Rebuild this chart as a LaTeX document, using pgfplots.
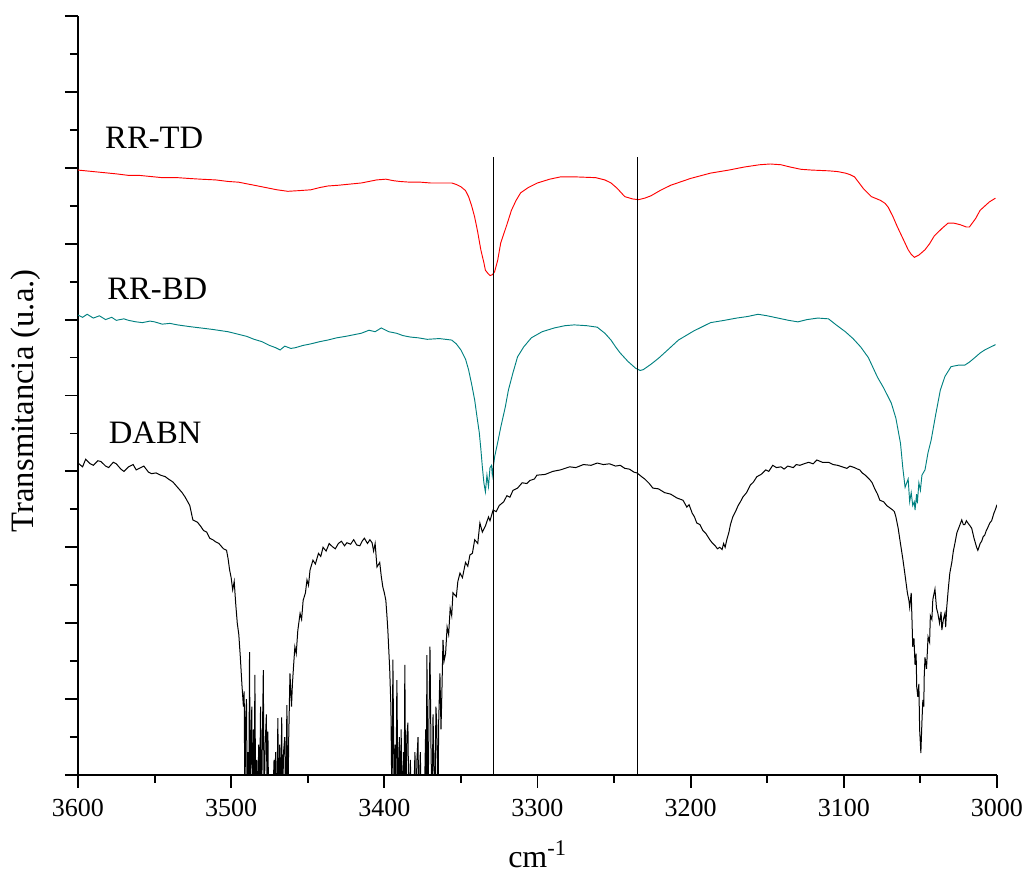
\documentclass[border=0pt]{standalone}
\usepackage{fontspec}
\setmainfont{Liberation Serif}
\usepackage{pgfplots}
\pgfplotsset{compat=1.18}
\definecolor{tealc}{RGB}{0,128,128}
\begin{document}
\begin{tikzpicture}
\path[use as bounding box] (-58.5pt,-73.5pt) rectangle (710.25pt,581.25pt);
\begin{axis}[
  at={(0,0)}, anchor=south west,
  scale only axis, width=689.25pt, height=569.25pt,
  x dir=reverse, xmin=3000, xmax=3600, ymin=0, ymax=10,
  axis x line=bottom, axis y line=left,
  axis line style={-, line width=1.4pt},
  every tick/.style={black, line width=1.4pt},
  tick align=outside,
  major tick length=9.75pt, minor tick length=6pt,
  xtick={3000,3100,...,3600}, minor x tick num=1,
  ytick={0,1,...,10}, minor y tick num=1, yticklabels={},
  /pgf/number format/assume math mode=true,
  /pgf/number format/set thousands separator={},
  xticklabel style={font=\fontsize{19.5}{20}\selectfont, yshift=-5pt},
  xlabel={cm\textsuperscript{-1}},
  ylabel={Transmitancia (u.a.)},
  xlabel style={font=\fontsize{24}{26}\selectfont, at={(axis description cs:0.5,-0.1225)}, anchor=base},
  ylabel style={font=\fontsize{24.5}{26}\selectfont, at={(axis description cs:-0.0575,0.493)}, anchor=center},
  clip=true,
]
% RR-TD
\addplot[red, line width=0.7pt] coordinates {
(3600,7.97)(3595,7.96)(3590,7.95)(3585,7.94)(3580,7.93)(3575,7.92)(3567,7.90)(3560,7.90)(3555,7.89)(3545,7.87)(3535,7.87)(3528,7.86)(3520,7.85)(3510,7.84)(3502,7.82)(3495,7.81)(3490,7.79)(3485,7.77)(3480,7.75)(3475,7.73)(3470,7.71)(3463,7.69)(3455,7.70)(3448,7.71)(3442,7.74)(3437,7.76)(3430,7.77)(3425,7.78)(3415,7.80)(3410,7.82)(3405,7.84)(3399,7.85)(3394,7.83)(3390,7.82)(3383,7.81)(3376,7.81)(3370,7.80)(3362,7.80)(3356,7.80)(3353,7.78)(3350,7.75)(3347,7.70)(3345,7.62)(3343,7.50)(3341,7.35)(3339,7.15)(3337,6.92)(3335,6.75)(3334,6.65)(3332,6.60)(3331,6.58)(3329.5,6.59)(3328,6.63)(3326,6.78)(3324,7.01)(3320,7.25)(3317,7.44)(3314,7.57)(3311,7.67)(3306,7.74)(3300,7.80)(3292,7.85)(3285,7.88)(3275,7.88)(3262,7.87)(3256,7.84)(3252,7.80)(3248,7.73)(3243,7.62)(3238,7.59)(3234,7.58)(3230,7.60)(3226,7.63)(3220,7.70)(3213,7.77)(3200,7.86)(3187,7.93)(3175,7.97)(3165,8.01)(3155,8.04)(3148,8.05)(3141,8.04)(3135,8.01)(3128,7.98)(3121,7.97)(3110,7.96)(3104,7.95)(3099,7.93)(3096,7.91)(3093,7.88)(3090,7.80)(3087,7.72)(3082,7.62)(3076,7.57)(3073,7.53)(3071,7.48)(3068,7.36)(3065,7.22)(3061,7.05)(3058,6.92)(3056,6.86)(3054,6.82)(3051,6.85)(3047,6.92)(3044,7.00)(3041,7.10)(3036,7.20)(3032,7.27)(3028,7.27)(3024,7.25)(3020,7.22)(3018,7.22)(3014,7.33)(3011,7.44)(3005,7.55)(3001,7.60)
};
% RR-BD
\addplot[tealc, line width=0.7pt] coordinates {
(3600,6.06)(3597,6.03)(3594,6.07)(3590,6.02)(3586,6.05)(3582,6.00)(3578,6.03)(3575,5.99)(3570,6.01)(3567,5.99)(3562,5.97)(3558,5.96)(3553,5.98)(3550,5.97)(3545,5.94)(3540,5.95)(3535,5.93)(3528,5.91)(3520,5.89)(3512,5.87)(3502,5.84)(3496,5.81)(3490,5.78)(3485,5.74)(3480,5.71)(3475,5.66)(3471,5.63)(3468,5.60)(3465,5.65)(3461,5.62)(3458,5.63)(3453,5.66)(3448,5.68)(3442,5.71)(3437,5.73)(3431,5.76)(3425,5.78)(3420,5.80)(3415,5.82)(3410,5.86)(3406,5.84)(3402,5.89)(3397,5.84)(3392,5.82)(3388,5.79)(3383,5.77)(3378,5.76)(3372,5.74)(3364,5.75)(3356,5.73)(3353,5.68)(3350,5.60)(3347,5.48)(3345,5.34)(3343,5.15)(3341,4.94)(3339.5,4.72)(3338,4.51)(3337,4.30)(3336,4.06)(3335,3.85)(3334,3.73)(3333,3.95)(3332,3.80)(3331,4.05)(3330,4.08)(3329.5,3.95)(3328,4.19)(3326,4.38)(3324,4.58)(3321,4.85)(3319,5.07)(3316,5.30)(3313,5.51)(3309,5.64)(3304,5.76)(3297,5.84)(3289,5.89)(3282,5.92)(3276,5.93)(3268,5.92)(3261,5.90)(3256,5.82)(3252,5.73)(3249,5.64)(3246,5.56)(3241,5.45)(3236,5.36)(3233,5.33)(3231,5.34)(3226,5.41)(3221,5.49)(3215,5.60)(3208,5.73)(3198,5.85)(3187,5.96)(3178,5.99)(3170,6.02)(3163,6.04)(3156,6.07)(3150,6.05)(3143,6.02)(3136,5.99)(3130,5.97)(3124,6.00)(3117,6.02)(3110,6.01)(3105,5.93)(3099,5.84)(3094,5.75)(3089,5.64)(3084,5.50)(3078,5.24)(3074,5.10)(3069,4.90)(3066,4.70)(3063,4.37)(3061.5,4.05)(3060,3.79)(3058,3.90)(3057,3.60)(3056,3.72)(3055,3.55)(3054,3.60)(3053.5,3.49)(3052.5,3.70)(3052,3.58)(3051,3.85)(3050,3.75)(3049,3.95)(3047,4.02)(3045,4.25)(3043,4.41)(3040,4.75)(3037,5.07)(3034,5.25)(3030,5.38)(3025,5.40)(3021,5.40)(3018,5.44)(3015,5.49)(3011,5.56)(3008,5.60)(3004,5.64)(3001,5.67)
};
% DABN
\addplot[black, line width=0.75pt] coordinates {
(3600,4.11)(3597,4.06)(3595,4.16)(3592,4.10)(3590,4.08)(3587,4.14)(3585,4.13)(3582,4.07)(3580,4.05)(3577,4.12)(3575,4.10)(3572,4.03)(3570,4.00)(3567,4.06)(3564,4.09)(3562,4.02)(3559,4.05)(3557,4.07)(3554,3.99)(3552,3.97)(3549,3.98)(3546,3.95)(3543,3.93)(3541,3.90)(3538,3.86)(3535,3.79)(3532,3.72)(3530,3.66)(3527,3.55)(3525,3.36)(3522,3.33)(3520,3.28)(3518,3.22)(3516,3.20)(3514,3.12)(3512,3.10)(3510,3.07)(3508,3.05)(3505,2.98)(3503,2.96)(3502,2.85)(3501,2.70)(3500,2.60)(3499,2.44)(3498,2.55)(3497,2.25)(3496,2.00)(3495,1.85)(3494,1.55)(3493,1.20)(3492,0.90)(3491.5,1.1)(3491,-0.5)
(3490.6,0.7)(3490,1.0)(3489.5,-0.5)(3489,0.3)(3488.5,-0.5)(3488,1.62)(3487.5,-0.5)(3487,0.5)(3486.5,0.9)(3486,-0.5)(3485.3,0.6)(3485,-0.5)(3484.5,1.32)(3484,-0.5)(3483.3,0.2)(3482.8,-0.5)(3482,0.4)(3481.5,-0.5)(3480.8,0.9)(3480.2,-0.5)(3479.6,0.5)(3479,1.38)(3478.5,-0.5)(3477.8,0.4)(3477,0.8)(3476.5,-0.5)(3476,0.57)(3475.5,-0.5)(3474,-0.5)(3473,-0.5)(3472,0.2)(3471.5,-0.5)(3471,0.3)(3470.2,-0.5)(3469.5,0.75)(3469,-0.5)(3468.3,0.4)(3467.7,-0.5)(3467,0.76)(3466.5,-0.5)(3465.8,0.3)(3465,0.5)(3464.4,-0.5)(3463.6,0.92)(3463,-0.5)(3462.4,0.5)(3461.6,1.34)
(3460.6,0.9)(3460,1.20)(3459.2,1.45)(3458.4,1.69)(3457.5,1.60)(3456.5,1.90)(3455,2.13)(3454,2.05)(3453,2.30)(3451.5,2.40)(3450.5,2.57)(3449.5,2.50)(3448.5,2.70)(3446.6,2.83)(3445,2.78)(3443,2.92)(3441.5,2.88)(3440,3.00)(3438,2.95)(3436,3.05)(3434,3.01)(3432,2.98)(3430,3.05)(3428,3.08)(3426,3.02)(3424.4,3.06)(3422,3.04)(3420,3.10)(3418,3.03)(3416,3.02)(3414.5,3.08)(3413,3.12)(3411,3.05)(3409.4,3.10)(3408,3.06)(3407,2.95)(3406,3.05)(3404.8,2.74)(3403,2.80)(3402,2.62)(3401,2.48)(3400,2.40)(3399,2.30)(3398.3,2.10)(3397.7,1.91)(3396.5,1.40)(3395.7,0.90)(3395,-0.5)
(3394.4,1.52)(3393.5,-0.5)(3393,0.4)(3392.5,-0.5)(3391.8,1.25)(3391,-0.5)(3390.2,0.5)(3389.6,-0.5)(3389,0.6)(3388.5,-0.5)(3387.5,0.3)(3387.1,-0.5)(3386.6,1.45)(3386,-0.5)(3385.3,0.5)(3384.6,0.69)(3384,-0.5)(3383,0.2)(3382.3,-0.5)(3381,-0.5)(3380,0.3)(3379.5,-0.5)(3378.7,0.2)(3378,0.50)(3377.5,-0.5)(3376.5,0.3)(3375.8,-0.5)(3374,-0.5)(3373,0.6)(3372.6,-0.5)(3372.2,1.58)(3371.5,-0.5)(3370.8,0.8)(3370.2,1.69)(3369.5,0.3)(3368.8,-0.5)(3368.2,0.8)(3367,-0.5)(3366.3,0.9)(3365.7,0.63)(3365,-0.5)(3364.5,0.7)(3363.7,1.34)(3363,0.6)(3362.4,1.1)(3361.7,1.78)
(3361,1.50)(3360,1.60)(3359,1.95)(3358,1.85)(3357,2.20)(3356,2.10)(3355.2,2.40)(3353,2.35)(3352,2.55)(3350.6,2.66)(3349,2.60)(3347,2.80)(3345.5,2.75)(3344.1,2.90)(3342.5,2.92)(3341,3.10)(3339,3.05)(3337.6,3.32)(3336,3.20)(3334,3.28)(3332,3.40)(3331,3.35)(3329,3.49)(3327,3.47)(3325,3.55)(3322,3.60)(3320,3.68)(3318,3.66)(3316,3.75)(3313,3.78)(3310,3.85)(3307,3.84)(3305,3.88)(3302,3.90)(3300.4,3.95)(3295,3.96)(3290,4.00)(3285,4.02)(3279,4.06)(3275,4.05)(3270,4.09)(3265,4.08)(3261,4.11)(3257,4.09)(3253,4.10)(3249,4.07)(3246,4.08)(3243,4.04)(3240,4.03)(3237,3.99)(3235,3.98)(3232,3.93)(3230,3.90)(3227,3.84)(3224.7,3.78)(3221,3.77)(3217,3.72)(3213,3.70)(3209,3.65)(3205,3.62)(3202.5,3.53)(3201,3.56)(3199,3.45)(3197.5,3.40)(3196,3.32)(3194,3.30)(3192,3.22)(3190,3.18)(3187.5,3.10)(3186,3.06)(3184,3.02)(3182.5,2.98)(3181,3.00)(3179.5,2.97)(3178.5,3.05)(3177.5,3.00)(3176.4,3.10)(3175,3.20)(3174,3.30)(3172.5,3.40)(3170.5,3.48)(3169,3.55)(3167.5,3.60)(3166,3.66)(3163.5,3.72)(3161,3.82)(3159,3.86)(3156.8,3.93)(3154,3.96)(3151,4.02)(3149,4.00)(3146.4,4.08)(3144,4.05)(3141,4.06)(3139,4.03)(3136.6,4.07)(3133,4.05)(3131,4.09)(3128.7,4.08)(3126,4.10)(3123,4.12)(3120,4.10)(3117.6,4.15)(3114,4.12)(3110,4.12)(3107,4.09)(3104,4.08)(3101,4.06)(3098,4.04)(3096,4.07)(3093,4.05)(3091,4.03)(3089.6,4.02)(3088,3.98)(3086,3.95)(3084.5,3.92)(3083,3.89)(3081.5,3.85)(3080,3.78)(3078,3.70)(3076.5,3.62)(3074,3.60)(3072,3.55)(3070,3.52)(3068,3.49)(3067,3.47)(3066,3.40)(3064.5,3.25)(3063.4,3.10)(3061.5,2.85)(3060.2,2.66)(3058.5,2.40)(3057.5,2.30)(3057,2.21)(3056,2.40)(3055.5,2.05)(3055,1.69)(3054.2,1.80)(3053.5,1.45)(3052.8,1.60)(3052.4,1.16)(3051.7,1.03)(3051,1.20)(3050.5,0.60)(3049.7,0.29)(3049,0.70)(3048.4,0.99)(3047.8,0.90)(3047.5,1.30)(3047,1.55)(3046,1.40)(3045,1.82)(3044,1.75)(3043.5,2.10)(3042.5,2.05)(3041.9,2.31)(3040.5,2.45)(3039.5,2.20)(3038.6,2.13)(3037.5,2.00)(3036.5,2.15)(3036,1.91)(3035,2.05)(3034,2.13)(3033.5,1.95)(3032.8,2.21)(3031.8,2.45)(3030.8,2.66)(3029.5,2.80)(3028.5,2.95)(3027.5,3.05)(3026.2,3.19)(3024.5,3.28)(3023,3.36)(3022,3.30)(3021,3.30)(3020,3.35)(3019,3.32)(3017.5,3.28)(3016.5,3.25)(3015.8,3.19)(3015,3.12)(3014,3.05)(3013.3,3.00)(3012.5,2.96)(3011.8,3.00)(3011,3.05)(3010,3.08)(3009,3.14)(3008,3.16)(3007,3.22)(3006,3.26)(3004.7,3.32)(3003.5,3.35)(3002,3.45)(3001,3.50)(3000,3.56)
};
% reference lines
\addplot[black, line width=0.6pt] coordinates {(3329,0) (3329,8.14)};
\addplot[black, line width=0.6pt] coordinates {(3234.5,0) (3234.5,8.14)};
\node[anchor=base west, inner sep=0pt, font=\fontsize{24.5}{26}\selectfont] at (axis cs:3582.4,8.26) {RR-TD};
\node[anchor=base west, inner sep=0pt, font=\fontsize{24.5}{26}\selectfont] at (axis cs:3581,6.27) {RR-BD};
\node[anchor=base west, inner sep=0pt, font=\fontsize{24.5}{26}\selectfont] at (axis cs:3580,4.37) {DABN};
\end{axis}
\end{tikzpicture}
\end{document}
